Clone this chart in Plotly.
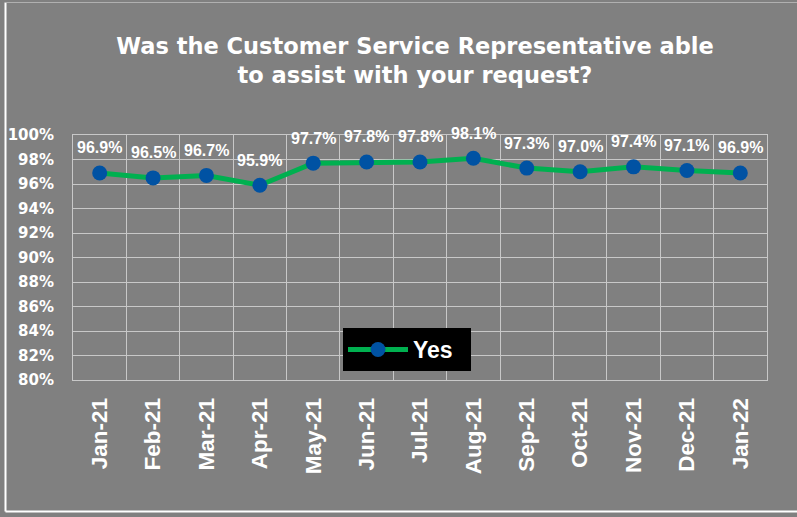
import plotly.graph_objects as go

months = ["Jan-21", "Feb-21", "Mar-21", "Apr-21", "May-21", "Jun-21", "Jul-21",
          "Aug-21", "Sep-21", "Oct-21", "Nov-21", "Dec-21", "Jan-22"]
yes_values = [0.969, 0.965, 0.967, 0.959, 0.977, 0.978, 0.978,
              0.981, 0.973, 0.970, 0.974, 0.971, 0.969]
y_ticks = [0.80, 0.82, 0.84, 0.86, 0.88, 0.90, 0.92, 0.94, 0.96, 0.98, 1.00]
y_tick_labels = [f"{round(v*100)}%" for v in y_ticks]

BG = "#808080"
GRID = "#C8C8C8"
W, H = 797, 517
L, R, T, B = 73, 30, 135, 137
pw, ph = W - L - R, H - T - B

fig = go.Figure()
fig.add_trace(go.Scatter(
    x=months, y=yes_values, name="Yes&nbsp;&nbsp;", mode="lines+markers",
    line=dict(color="#00B050", width=5),
    marker=dict(color="#0052A3", size=15),
))

for m, v in zip(months, yes_values):
    fig.add_annotation(x=m, y=v, text=f"<b>{v*100:.1f}%</b>", showarrow=False,
                       yshift=25, xanchor="center", yanchor="middle",
                       font=dict(family="Arial", size=16, color="white"))

def px_x(p):
    return (p - L) / pw

def px_y(p):
    return (H - B - p) / ph

# outer chart border
fig.add_shape(type="line", xref="paper", yref="paper", x0=px_x(5.5), x1=px_x(5.5),
              y0=px_y(2.5), y1=px_y(511.5), line=dict(color="white", width=2))
fig.add_shape(type="line", xref="paper", yref="paper", x0=px_x(5.5), x1=px_x(800),
              y0=px_y(511.5), y1=px_y(511.5), line=dict(color="white", width=2))
fig.add_shape(type="line", xref="paper", yref="paper", x0=px_x(5.5), x1=px_x(800),
              y0=px_y(2.5), y1=px_y(2.5), line=dict(color="#B0B0B0", width=1))

fig.update_layout(
    width=W, height=H,
    paper_bgcolor=BG, plot_bgcolor=BG,
    margin=dict(l=L, r=R, t=T, b=B, autoexpand=False),
    title=dict(text="<b>Was the Customer Service Representative able<br>to assist with your request?</b>",
               x=415 / W, xanchor="center", y=1 - 54 / H, yanchor="middle", automargin=False,
               font=dict(family="DejaVu Sans", size=22.5, color="white")),
    showlegend=True,
    legend=dict(x=px_x(343), y=px_y(328), xanchor="left", yanchor="top",
                bgcolor="black", borderwidth=0, itemwidth=60,
                font=dict(family="Arial", size=23, color="white", weight="bold")),
    xaxis=dict(type="category", categoryorder="array", categoryarray=months,
               range=[-0.5, 12.5], tickson="boundaries", showgrid=True, automargin=False,
               gridcolor=GRID, gridwidth=1, showline=True, linecolor=GRID, mirror=True,
               ticks="", tickangle=-90, ticklabelstandoff=8,
               tickfont=dict(family="Arial", size=22.5, color="white", weight="bold")),
    yaxis=dict(range=[0.80, 1.00], tickvals=y_ticks, ticktext=y_tick_labels, automargin=False,
               showgrid=True, gridcolor=GRID, gridwidth=1, zeroline=False,
               showline=True, linecolor=GRID, mirror=True, ticks="", ticklabelstandoff=15,
               tickfont=dict(family="DejaVu Sans", size=15, color="white", weight="bold")),
)

fig.write_html("out.html", config={"displayModeBar": False},
               post_script="document.body.style.margin='0px';")
